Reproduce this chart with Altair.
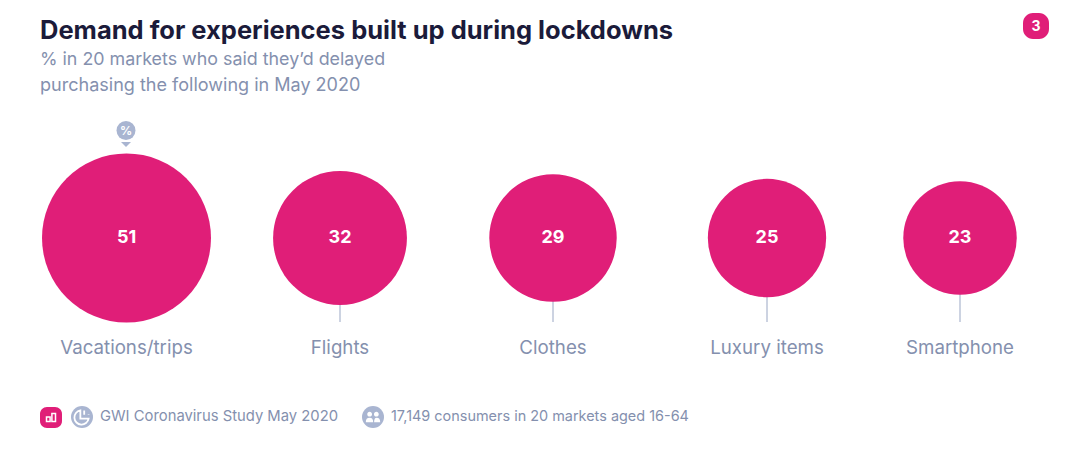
import altair as alt
import pandas as pd

categories = ["Vacations/trips", "Flights", "Clothes", "Luxury items", "Smartphone"]
values = [51, 32, 29, 25, 23]
order = [0, 1, 2, 3, 4]
title = "Demand for experiences built up during lockdowns"
subtitle = ["% in 20 markets who said they\u2019d delayed", "purchasing the following in May 2020"]
source = "GWI Coronavirus Study May 2020"
sample = "17,149 consumers in 20 markets aged 16-64"

PINK = "#e01e78"
DARK = "#1b1b3a"
MUTED = "#8490ae"
LIGHT = "#a9b5d1"
FONT = "Inter"
W, H = 1064, 433

def X(v): return alt.value(v - 8)
def Y(v): return alt.value(v - 8)

df = pd.DataFrame({"category": categories, "value": values, "order": order})
xscale = alt.Scale(domain=order, range=[118.5, 332, 545, 759, 952])
x = alt.X("order:Q", scale=xscale, axis=None)
base = alt.Chart(df)

rules = base.mark_rule(color="#9aa7c4", strokeWidth=1).encode(x=x, y=Y(238), y2=Y(322))
circles = base.mark_point(filled=True, opacity=1, color=PINK, shape="circle").encode(
    x=x, y=Y(238),
    size=alt.Size("value:Q", scale=alt.Scale(type="linear", domain=[0, 51], range=[0, 28561]), legend=None),
)
value_labels = base.mark_text(color="white", fontWeight="bold", fontSize=18, font=FONT).encode(
    x=x, y=Y(238), text="value:Q")
cat_labels = base.mark_text(color=MUTED, fontSize=18.7, font=FONT).encode(
    x=x, y=Y(348), text="category:N")

one = alt.Chart(pd.DataFrame({"a": [0]}))

def text(t, px, py, **kw):
    return one.mark_text(align="left", baseline="middle", font=FONT, text=t, **kw).encode(x=X(px), y=Y(py))

def rrect(x0, x1, y0, y1, r, color):
    return one.mark_rect(color=color, cornerRadius=r).encode(x=X(x0), x2=X(x1), y=Y(y0), y2=Y(y1))

def glyph(shape, px, py, d, **kw):
    return one.mark_point(shape=shape, size=d * d, opacity=1, **kw).encode(x=X(px), y=Y(py))

layers = [
    rules, circles, value_labels, cat_labels,
    text(title, 40, 31, fontSize=25.5, fontWeight="bold", color=DARK),
    text(subtitle[0], 40, 59.5, fontSize=17.85, color=MUTED),
    text(subtitle[1], 40, 85.5, fontSize=18.05, color=MUTED),
    # page badge
    rrect(1023, 1049, 13, 39, 10, PINK),
    one.mark_text(text="3", color="white", fontWeight="bold", fontSize=14, font=FONT).encode(x=X(1036), y=Y(26.5)),
    # percent pin
    glyph("circle", 126, 130.5, 19, filled=True, color=LIGHT),
    glyph("M-1,-0.5 L1,-0.5 L0,0.5 Z", 126, 144.5, 10, filled=True, color=LIGHT),
    one.mark_text(text="%", color="white", fontWeight="bold", fontSize=12, font=FONT).encode(x=X(126), y=Y(131)),
    # footer
    rrect(40, 62, 407, 428, 7, PINK),
    glyph("M-0.5,0.45 V-0.05 H-0.1 V0.45 Z M0.1,0.45 V-0.45 H0.5 V0.45 Z", 51, 417.5, 18, filled=False, color="white", strokeWidth=1.5),
    glyph("circle", 82, 417, 22, filled=True, color=LIGHT),
    glyph("M-0.15,-0.6 A0.65,0.65 0 1 0 0.6,0.15 L-0.15,0.15 Z M0.2,-0.6 V-0.2 M0.6,-0.25 V-0.2", 82, 417, 22, filled=False, color="white", strokeWidth=1.8),
    text(source, 100, 416.5, fontSize=14.8, color=MUTED),
    glyph("circle", 373, 417, 22, filled=True, color=LIGHT),
    glyph("M-0.72,-0.35 a0.3,0.3 0 1 0 0.6,0 a0.3,0.3 0 1 0 -0.6,0 M0.12,-0.35 a0.3,0.3 0 1 0 0.6,0 a0.3,0.3 0 1 0 -0.6,0 M-0.9,0.65 Q-0.9,0.1 -0.42,0.1 Q0.02,0.1 0.02,0.65 Z M0.14,0.65 Q0.14,0.1 0.45,0.1 Q0.9,0.1 0.9,0.65 Z", 373, 417, 16, filled=True, color="white"),
    text(sample, 391, 416.5, fontSize=14.45, color=MUTED),
]

chart = alt.layer(*layers).properties(width=W, height=H, padding=0, autosize=alt.AutoSizeParams(type="none")).configure_view(stroke=None)
chart.save("out.html", embed_options={"renderer": "svg", "actions": False})
